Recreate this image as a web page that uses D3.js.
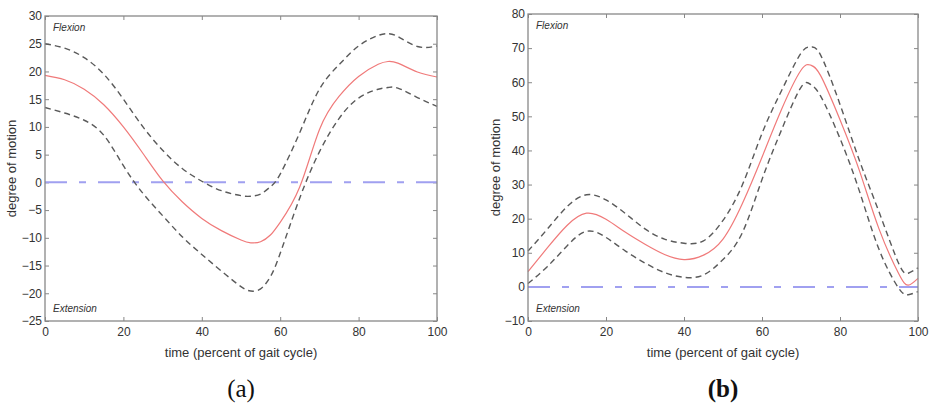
<!DOCTYPE html>
<html>
<head>
<meta charset="utf-8">
<script src="https://cdn.jsdelivr.net/npm/d3@7"></script>
<style>
  body { margin: 0; background: #fff; }
  svg { display: block; }
  .tick text { font-family: "Liberation Sans", Arial, sans-serif; font-size: 12px; fill: #333; }
  .tick line { stroke: #888; }
</style>
</head>
<body>
<div id="chart"></div>
<script>
// panel (a)
const aTime = [0, 5, 10, 15, 20, 25, 30, 35, 40, 45, 50, 52.5, 55, 57.5, 60, 65, 70, 75, 80, 85, 87.5, 90, 95, 100];
const aMean = [19.3, 18.5, 16.8, 14, 10, 5.2, 0.3, -3.5, -6.5, -8.7, -10.4, -10.9, -10.7, -9.5, -7.2, -0.8, 9.5, 15.5, 19.1, 21.3, 21.8, 21.5, 19.9, 19];
const aUpper = [25, 24.2, 22.5, 19.5, 15, 10, 5.8, 2.5, 0.2, -1.5, -2.4, -2.5, -2.1, -0.8, 1.5, 9, 16.8, 21.2, 24.6, 26.5, 26.8, 26.3, 24.5, 24.6];
const aLower = [13.5, 12.5, 11.2, 8.5, 3, -2, -6, -9.8, -13, -16, -18.8, -19.6, -19.2, -17, -12.8, -2.8, 5.5, 11.5, 15.2, 16.8, 17.1, 17, 15.3, 13.7];
const aYTicks = [-25, -20, -15, -10, -5, 0, 5, 10, 15, 20, 25, 30];

// panel (b)
const bTime = [0, 5, 10, 15, 20, 25, 30, 35, 40, 45, 50, 55, 60, 65, 70, 72.5, 75, 80, 85, 90, 95, 97.5, 100];
const bMean = [4.5, 11.5, 18, 21.6, 19.8, 16, 12.5, 9.5, 8, 9.3, 14, 24.5, 38, 52, 63.5, 65, 62, 49, 34, 17, 4, 0.5, 2.5];
const bUpper = [10.5, 17, 23.5, 27, 25.5, 21.5, 17, 14, 12.8, 13.5, 19.5, 30, 45, 57.5, 68.5, 70.3, 68, 53.5, 37, 22, 7, 4, 5.6];
const bLower = [1, 6, 12, 16.3, 14.5, 10.5, 7, 4.2, 2.8, 3.5, 8, 16, 31.5, 46, 58.5, 59.3, 56, 43.5, 28, 11, -0.3, -2.3, -1.4];
const bYTicks = [-10, 0, 10, 20, 30, 40, 50, 60, 70, 80];

const xTicks = [0, 20, 40, 60, 80, 100];

const svg = d3.select("#chart")
    .append("svg")
    .attr("width", 933)
    .attr("height", 403);

const panels = [
    {left: 45, right: 437, top: 16, bottom: 321, ylab: 12, yDomain: [-25, 30], yTicks: aYTicks,
     time: aTime, mean: aMean, upper: aUpper, lower: aLower, caption: "(a)", bold: false},
    {left: 528, right: 918, top: 14, bottom: 321, ylab: 496, yDomain: [-10, 80], yTicks: bYTicks,
     time: bTime, mean: bMean, upper: bUpper, lower: bLower, caption: "(b)", bold: true}
];

panels.forEach(p => {
    const g = svg.append("g");

    const x = d3.scaleLinear().domain([0, 100]).range([p.left, p.right]);
    const y = d3.scaleLinear().domain(p.yDomain).range([p.bottom, p.top]);

    // ticks pointing inward on all four sides
    g.append("g")
        .attr("transform", `translate(0, ${p.bottom})`)
        .call(d3.axisBottom(x).tickValues(xTicks).tickSizeInner(-4).tickSizeOuter(0).tickPadding(6))
        .call(a => a.select(".domain").remove());
    g.append("g")
        .attr("transform", `translate(0, ${p.top})`)
        .call(d3.axisTop(x).tickValues(xTicks).tickSizeInner(-4).tickSizeOuter(0).tickFormat(""))
        .call(a => a.select(".domain").remove());
    g.append("g")
        .attr("transform", `translate(${p.left}, 0)`)
        .call(d3.axisLeft(y).tickValues(p.yTicks).tickSizeInner(-4).tickSizeOuter(0).tickPadding(3))
        .call(a => a.select(".domain").remove());
    g.append("g")
        .attr("transform", `translate(${p.right}, 0)`)
        .call(d3.axisRight(y).tickValues(p.yTicks).tickSizeInner(-4).tickSizeOuter(0).tickFormat(""))
        .call(a => a.select(".domain").remove());

    // zero reference line
    g.append("line")
        .attr("x1", x(0)).attr("x2", x(100))
        .attr("y1", y(0)).attr("y2", y(0))
        .attr("stroke", "#a0a0f0")
        .attr("stroke-width", 2)
        .attr("stroke-dasharray", "22,12,7,12");

    const line = d3.line()
        .x((d, i) => x(p.time[i]))
        .y(d => y(d))
        .curve(d3.curveNatural);

    g.append("path").datum(p.upper)
        .attr("d", line).attr("fill", "none")
        .attr("stroke", "#5a5a5a").attr("stroke-width", 1.4).attr("stroke-dasharray", "6,4");
    g.append("path").datum(p.lower)
        .attr("d", line).attr("fill", "none")
        .attr("stroke", "#5a5a5a").attr("stroke-width", 1.4).attr("stroke-dasharray", "6,4");
    g.append("path").datum(p.mean)
        .attr("d", line).attr("fill", "none")
        .attr("stroke", "#f07a7a").attr("stroke-width", 1.2);

    // frame
    g.append("rect")
        .attr("x", p.left).attr("y", p.top)
        .attr("width", p.right - p.left).attr("height", p.bottom - p.top)
        .attr("fill", "none").attr("stroke", "#888").attr("stroke-width", 1.3);

    g.append("text")
        .attr("x", p.left + 8).attr("y", p.top + 15)
        .attr("font-family", "Liberation Sans, Arial, sans-serif")
        .attr("font-size", "10px").attr("font-style", "italic").attr("fill", "#333")
        .text("Flexion");
    g.append("text")
        .attr("x", p.left + 8).attr("y", 312)
        .attr("font-family", "Liberation Sans, Arial, sans-serif")
        .attr("font-size", "10px").attr("font-style", "italic").attr("fill", "#333")
        .text("Extension");

    // axis titles
    g.append("text")
        .attr("x", (p.left + p.right) / 2).attr("y", 357)
        .attr("text-anchor", "middle")
        .attr("font-family", "Liberation Sans, Arial, sans-serif")
        .attr("font-size", "13px").attr("fill", "#333")
        .text("time (percent of gait cycle)");
    g.append("text")
        .attr("transform", `translate(${p.ylab + 4}, ${(p.top + p.bottom) / 2}) rotate(-90)`)
        .attr("text-anchor", "middle")
        .attr("font-family", "Liberation Sans, Arial, sans-serif")
        .attr("font-size", "13px").attr("fill", "#333")
        .text("degree of motion");

    // caption
    g.append("text")
        .attr("x", (p.left + p.right) / 2).attr("y", 397)
        .attr("text-anchor", "middle")
        .attr("font-family", "Liberation Serif, DejaVu Serif, serif")
        .attr("font-size", "25px").attr("fill", "#111")
        .attr("font-weight", p.bold ? "bold" : "normal")
        .text(p.caption);
});
</script>
</body>
</html>
